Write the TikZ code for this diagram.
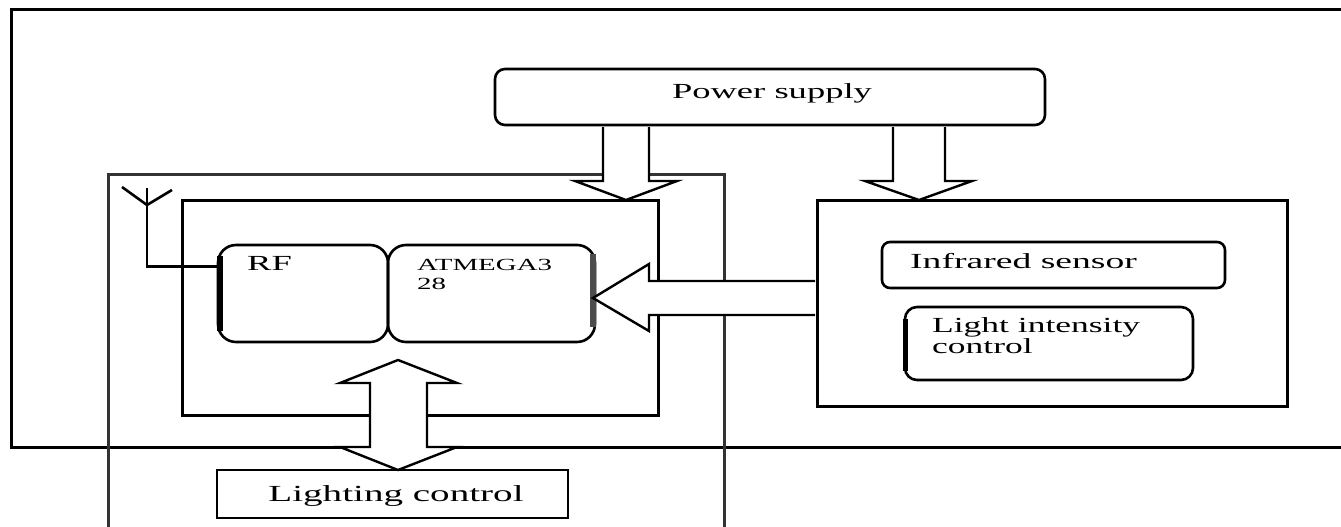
\documentclass[tikz,border=0pt]{standalone}
\usepackage{fontspec}
\setmainfont{Liberation Serif}
\usetikzlibrary{calc}
\newcommand\stretchtxt[1]{\scalebox{1.7}[1]{#1}}
\begin{document}
\begin{tikzpicture}[x=1pt,y=-1pt,
  frame/.style={draw, line width=3pt, inner sep=0pt, rectangle},
  box/.style={draw, line width=2.6pt, inner sep=0pt, rectangle},
  txt/.style={inner sep=0pt, anchor=base west},
  bigfont/.style={font=\fontsize{21.5}{24}\selectfont},
  blockarrow/.style={draw, fill=white, line width=2.4pt, line join=miter},
  thickedge/.style={line width=6pt}]
\useasboundingbox (0,0) rectangle (1341,527);
\fill[white] (0,0) rectangle (1341,527);
\clip (0,0) rectangle (1341,527);

% containers
\node[frame, minimum width=1369pt, minimum height=437pt] (outer) at (695.5,228.5) {};
\node[frame, black!80, minimum width=616pt, minimum height=380pt] (module) at (416,364) {};
\node[frame, minimum width=476pt, minimum height=215pt] (inner) at (420,307.5) {};
\node[frame, minimum width=470pt, minimum height=206pt] (sens) at (1052,303) {};

% boxes
\node[box, rounded corners=10pt, minimum width=550pt, minimum height=56pt] (ps) at (770,97) {};
\node[txt, bigfont, anchor=base] (pstext) at (772,98) {\stretchtxt{Power supply}};

\node[box, rounded corners=18pt, minimum width=170pt, minimum height=97pt] (rf) at (303,293.5) {};
\node[txt, bigfont] (rftext) at (247,270) {\stretchtxt{RF}};

\node[box, rounded corners=18pt, minimum width=207pt, minimum height=97pt] (atm) at (491.5,293.5) {};
\node[txt, font=\fontsize{17}{19}\selectfont] (atmtext1) at (417,270) {\stretchtxt{ATMEGA3}};
\node[txt, font=\fontsize{17}{19}\selectfont] (atmtext2) at (417,289) {\stretchtxt{28}};

\node[box, rounded corners=8pt, minimum width=343pt, minimum height=46pt] (inf) at (1053.5,265) {};
\node[txt, bigfont] (inftext) at (910,268) {\scalebox{1.75}[1]{Infrared sensor}};

\node[box, rounded corners=12pt, minimum width=288pt, minimum height=73pt] (lic) at (1049,343.5) {};
\node[txt, bigfont] (lictext1) at (932,332) {\scalebox{1.65}[1]{Light intensity}};
\node[txt, bigfont] (lictext2) at (932,353) {\scalebox{1.65}[1]{control}};

\node[box, minimum width=351pt, minimum height=48pt] (lc) at (392.5,494) {};
\node[txt, font=\fontsize{23}{26}\selectfont, anchor=base] (lctext) at (396,501) {\stretchtxt{Lighting control}};

% thick edges
\draw[thickedge] ($(rf.west)+(3,-38)$) -- ($(rf.west)+(3,37)$);
\draw[thickedge, black!70] ($(atm.east)+(-3,-40)$) -- ($(atm.east)+(-3,33)$);
\draw[thickedge, line width=5pt] ($(lic.west)+(2,-25)$) -- ($(lic.west)+(2,27)$);

% antenna
\coordinate (ant) at (147,188);
\coordinate (antfork) at (147,205);
\coordinate (rfport) at ($(rf.north west)+(0,23)$);
\draw[line width=2.6pt] (122,187) -- (antfork) -- (172,190);
\draw[line width=2.6pt] (ant) |- (rfport);

% block arrows
\filldraw[blockarrow] (603,127) -- (603,181) -- (575,181) -- (626,200) -- (677,181) -- (649,181) -- (649,127);
\filldraw[blockarrow] (893,127) -- (893,181) -- (865,181) -- (919,200) -- (972,181) -- (945,181) -- (945,127);
\filldraw[blockarrow] (815,281) -- (649,281) -- (649,264) -- (593,298) -- (649,331) -- (649,315) -- (815,315);
\filldraw[blockarrow] (370,383) -- (340,383) -- (398,360) -- (457,383) -- (427,383) -- (427,447) -- (457,447) -- (398,470) -- (340,447) -- (370,447) -- cycle;
\end{tikzpicture}
\end{document}
